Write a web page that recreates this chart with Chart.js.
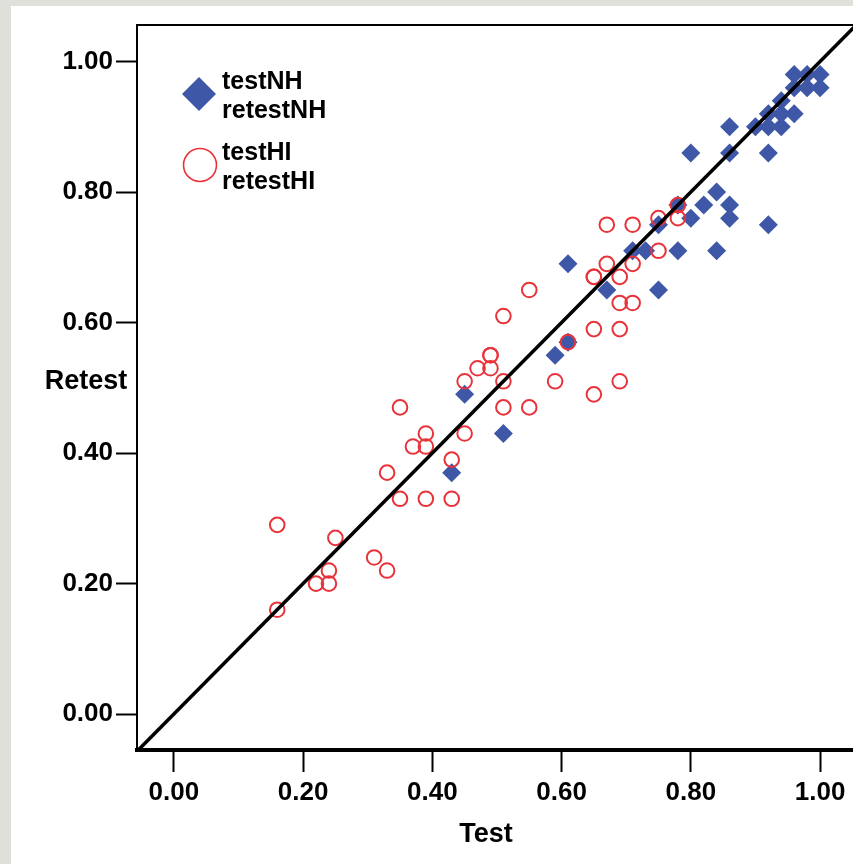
<!DOCTYPE html>
<html>
<head>
<meta charset="utf-8">
<script src="https://cdn.jsdelivr.net/npm/chart.js@4.4.1/dist/chart.umd.min.js"></script>
<style>
  html, body { margin: 0; padding: 0; background: #e0e0da; overflow: hidden; }
  #wrap { position: absolute; left: 11px; top: 6px; width: 842px; height: 858px; background: #fff; }
</style>
</head>
<body>
<div id="wrap"><canvas id="chart" width="842" height="858"></canvas></div>
<script>
// values
const NH_TEST   = [0.96, 0.98, 1.00, 0.96, 0.98, 1.00, 0.94, 0.92, 0.94, 0.96, 0.86, 0.90, 0.92, 0.94, 0.86, 0.92, 0.80, 0.84, 0.82, 0.86, 0.78, 0.80, 0.86, 0.92, 0.75, 0.71, 0.73, 0.78, 0.84, 0.75, 0.67, 0.61, 0.61, 0.59, 0.45, 0.51, 0.43];
const NH_RETEST = [0.98, 0.98, 0.98, 0.96, 0.96, 0.96, 0.94, 0.92, 0.92, 0.92, 0.90, 0.90, 0.90, 0.90, 0.86, 0.86, 0.86, 0.80, 0.78, 0.78, 0.78, 0.76, 0.76, 0.75, 0.75, 0.71, 0.71, 0.71, 0.71, 0.65, 0.65, 0.69, 0.57, 0.55, 0.49, 0.43, 0.37];

const HI_TEST   = [0.78, 0.75, 0.78, 0.67, 0.71, 0.75, 0.67, 0.71, 0.65, 0.65, 0.69, 0.55, 0.69, 0.71, 0.51, 0.65, 0.69, 0.61, 0.49, 0.49, 0.47, 0.49, 0.45, 0.51, 0.59, 0.69, 0.65, 0.35, 0.51, 0.55, 0.39, 0.45, 0.37, 0.39, 0.43, 0.33, 0.35, 0.39, 0.43, 0.16, 0.25, 0.31, 0.24, 0.33, 0.22, 0.24, 0.16];
const HI_RETEST = [0.78, 0.76, 0.76, 0.75, 0.75, 0.71, 0.69, 0.69, 0.67, 0.67, 0.67, 0.65, 0.63, 0.63, 0.61, 0.59, 0.59, 0.57, 0.55, 0.55, 0.53, 0.53, 0.51, 0.51, 0.51, 0.51, 0.49, 0.47, 0.47, 0.47, 0.43, 0.43, 0.41, 0.41, 0.39, 0.37, 0.33, 0.33, 0.33, 0.29, 0.27, 0.24, 0.22, 0.22, 0.20, 0.20, 0.16];

const IDENTITY = [-0.06, 1.06];
const TICKS = [0, 0.2, 0.4, 0.6, 0.8, 1.0];
const X_RANGE = [-0.057, 1.051];
const Y_RANGE = [-0.055, 1.056];

const X_TITLE = 'Test';
const Y_TITLE = 'Retest';
const NH_LABEL = ['testNH', 'retestNH'];
const HI_LABEL = ['testHI', 'retestHI'];

const BLUE = '#3f57a7';
const RED = '#e8333a';
const FONT = '"Liberation Sans", Arial, sans-serif';

const pairs = (xs, ys) => xs.map((x, i) => ({ x: x, y: ys[i] }));

// frame top, axis titles and the in-plot legend
const overlay = {
    id: 'overlay',
    afterDraw(chart) {
        const { ctx, chartArea: a } = chart;
        ctx.save();
        ctx.strokeStyle = '#000';
        ctx.lineWidth = 2;
        ctx.beginPath();
        ctx.moveTo(a.left - 1, a.top);
        ctx.lineTo(a.right, a.top);
        ctx.stroke();

        ctx.fillStyle = '#000';
        ctx.font = 'bold 27px ' + FONT;
        ctx.textAlign = 'center';
        ctx.textBaseline = 'middle';
        ctx.fillText(X_TITLE, 475, 829);
        ctx.fillText(Y_TITLE, 75, 376);

        // legend
        const nh = chart.data.datasets[1];
        const hi = chart.data.datasets[2];
        ctx.fillStyle = BLUE;
        ctx.beginPath();
        ctx.moveTo(188, 71); ctx.lineTo(205, 88); ctx.lineTo(188, 105); ctx.lineTo(171, 88);
        ctx.closePath();
        ctx.fill();

        ctx.strokeStyle = RED;
        ctx.lineWidth = 1.6;
        ctx.beginPath();
        ctx.arc(189, 159, 16.5, 0, Math.PI * 2);
        ctx.stroke();

        ctx.fillStyle = '#000';
        ctx.font = 'bold 25px ' + FONT;
        ctx.textAlign = 'left';
        ctx.fillText(nh.label[0], 211, 76);
        ctx.fillText(nh.label[1], 211, 105);
        ctx.fillText(hi.label[0], 211, 147);
        ctx.fillText(hi.label[1], 211, 176);
        ctx.restore();
    }
};

const tickFont = { family: FONT, size: 26, weight: 'bold' };

new Chart(document.getElementById('chart'), {
    type: 'scatter',
    data: {
        datasets: [
            {
                label: 'identity',
                data: pairs(IDENTITY, IDENTITY),
                showLine: true,
                borderColor: '#000',
                borderWidth: 3.5,
                pointRadius: 0,
                order: 0
            },
            {
                label: NH_LABEL,
                data: pairs(NH_TEST, NH_RETEST),
                pointStyle: 'rectRot',
                pointRadius: 9.5,
                backgroundColor: BLUE,
                borderWidth: 0,
                order: 2
            },
            {
                label: HI_LABEL,
                data: pairs(HI_TEST, HI_RETEST),
                pointStyle: 'circle',
                pointRadius: 7.3,
                backgroundColor: 'rgba(0,0,0,0)',
                borderColor: RED,
                borderWidth: 2,
                order: 1
            }
        ]
    },
    options: {
        responsive: false,
        animation: false,
        devicePixelRatio: 1,
        layout: { autoPadding: false, padding: { top: 19, left: 0, right: 0, bottom: 0 } },
        plugins: { legend: { display: false }, tooltip: { enabled: false } },
        scales: {
            x: {
                type: 'linear',
                min: X_RANGE[0],
                max: X_RANGE[1],
                afterBuildTicks: s => { s.ticks = TICKS.map(v => ({ value: v })); },
                afterFit: s => { s.height = 114; s.paddingLeft = 0; s.paddingRight = 0; },
                grid: { drawOnChartArea: false, drawTicks: true, tickLength: 22, tickWidth: 2, tickColor: '#000' },
                border: { color: '#000', width: 4 },
                ticks: { color: '#000', font: tickFont, padding: 5, maxRotation: 0, autoSkip: false, callback: v => v.toFixed(2) }
            },
            y: {
                type: 'linear',
                min: Y_RANGE[0],
                max: Y_RANGE[1],
                afterBuildTicks: s => { s.ticks = TICKS.map(v => ({ value: v })); },
                afterFit: s => { s.width = 126; s.paddingTop = 0; s.paddingBottom = 0; },
                grid: { drawOnChartArea: false, drawTicks: true, tickLength: 21, tickWidth: 2, tickColor: '#000' },
                border: { color: '#000', width: 2 },
                ticks: { color: '#000', font: tickFont, padding: 3, autoSkip: false, callback: v => v.toFixed(2) }
            }
        }
    },
    plugins: [overlay]
});
</script>
</body>
</html>
